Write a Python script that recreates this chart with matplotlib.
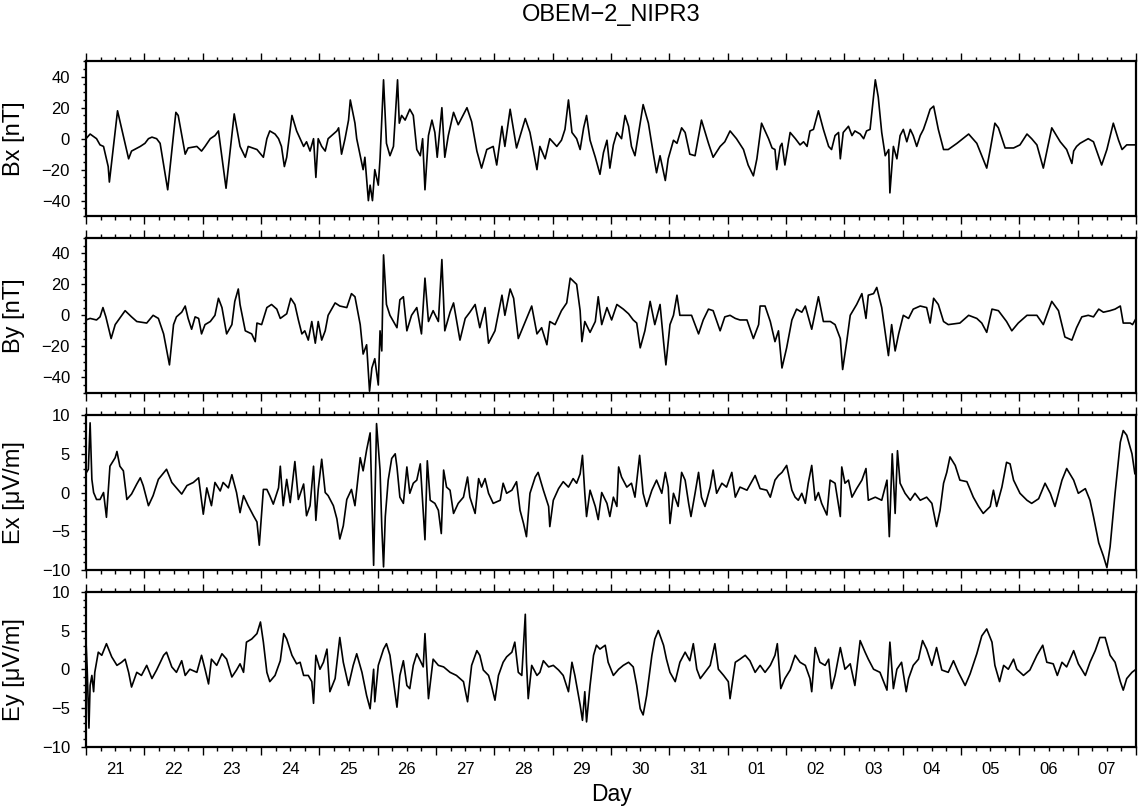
import numpy as np
import matplotlib.pyplot as plt
from matplotlib.ticker import MultipleLocator, NullFormatter

plt.rcParams['font.family'] = ['Liberation Sans', 'DejaVu Sans']

# time axis: days since day 21, 00:00
bx_day = [0.00, 0.07, 0.18, 0.24, 0.30, 0.38, 0.40, 0.54, 0.73, 0.78, 0.93, 1.01, 1.07, 1.13, 1.21, 1.27,
          1.40, 1.54, 1.58, 1.70, 1.75, 1.90, 1.98, 2.04, 2.13, 2.21, 2.27, 2.40, 2.54, 2.64, 2.73, 2.78,
          2.93, 3.04, 3.10, 3.15, 3.24, 3.30, 3.35, 3.40, 3.44, 3.53, 3.61, 3.67, 3.73, 3.78, 3.84, 3.90,
          3.94, 3.98, 4.04, 4.10, 4.15, 4.24, 4.30, 4.33, 4.38, 4.44, 4.50, 4.53, 4.61, 4.64, 4.75, 4.78,
          4.84, 4.87, 4.91, 4.95, 5.01,
          5.04, 5.10, 5.15, 5.21, 5.27, 5.34, 5.37, 5.41, 5.47, 5.55, 5.61, 5.67, 5.73, 5.77, 5.81, 5.87,
          5.93, 5.98, 6.02, 6.10, 6.15, 6.21, 6.30, 6.38, 6.53, 6.61, 6.70, 6.78, 6.87, 6.98, 7.04, 7.13,
          7.18, 7.27, 7.38, 7.53, 7.61, 7.73, 7.78, 7.87, 7.95, 8.07, 8.15, 8.21, 8.27, 8.33, 8.41, 8.47,
          8.53, 8.58, 8.64, 8.73, 8.81, 8.87, 8.93, 8.98, 9.04, 9.10, 9.18, 9.24, 9.30, 9.35, 9.41, 9.55,
          9.64, 9.73, 9.78, 9.84, 9.93, 9.98, 10.07, 10.13, 10.21, 10.27, 10.35, 10.44, 10.55, 10.67, 10.75,
          10.87, 10.95, 11.04, 11.15, 11.27, 11.35, 11.44, 11.50, 11.58,
          11.70, 11.76, 11.81, 11.84, 11.90, 11.93, 11.98, 12.07, 12.16, 12.24, 12.30, 12.36, 12.41, 12.47,
          12.555, 12.64, 12.73, 12.78, 12.84, 12.90, 12.93, 12.98, 13.07, 13.13, 13.18, 13.27, 13.33, 13.38,
          13.44, 13.53, 13.58, 13.64, 13.70, 13.76, 13.78, 13.84, 13.90, 13.955, 14.01, 14.07, 14.13, 14.18,
          14.24, 14.30, 14.355, 14.41, 14.47, 14.53, 14.61, 14.70, 14.78, 14.93, 15.13, 15.27, 15.355, 15.44,
          15.50, 15.58, 15.64, 15.755, 15.90, 16.01, 16.13, 16.21, 16.30, 16.41, 16.555, 16.70, 16.81, 16.90,
          16.93, 16.98, 17.04, 17.18, 17.27, 17.41, 17.50, 17.61, 17.70, 17.76, 17.84, 18.00]
bx_val = [0, 3, 0, -4, -5, -18, -28, 18, -13, -8, -5, -3, 0, 1, 0, -3,
          -33, 17, 15, -10, -6, -5, -8, -5, 0, 2, 5, -32, 16, -5, -12, -5,
          -7, -12, 0, 5, 3, 0, -5, -18, -12, 15, 5, 0, -5, -2, -8, 0,
          -25, 0, -5, -8, 0, 3, 5, 7, -10, 0, 12, 25, 10, 0, -20, -12,
          -40, -30, -40, -20, -30,
          -13, 38, -3, -11, -5, 38, 10, 15, 12, 19, 15, -7, -11, 0, -33, 2,
          12, 4, -12, 20, -12, 2, 17, 9, 20, 11, -8, -19, -7, -5, -17, 8,
          -5, 19, -6, 13, 4, -20, -5, -13, 0, -5, -1, 6, 25, 4, 0, -7,
          7, 15, -1, -12, -23, -9, -1, -19, -4, 4, 0, 15, 8, -5, -11, 22,
          10, -11, -22, -11, -27, -13, -1, -3, 7, 4, -10, -11, 12, -3, -12,
          -5, -2, 5, 0, -7, -17, -24, -13, 10,
          0, -6, -7, -20, -5, -3, -17, 4, 0, -4, -2, -5, 5, 6,
          18, 6, -5, -7, 2, 4, -13, 4, 8, 2, 5, 3, 0, 5,
          6, 38, 27, 4, -11, -7, -35, -5, -13, 2, 6, -2, 6, 2,
          -5, 2, 6, 12, 19, 21, 6, -7, -7, -3, 3, -3, -11, -19,
          -7, 10, 7, -6, -6, -4, 3, 0, -4, -19, 7, -2, -7, -16,
          -8, -5, -3, 0, -2, -17, -7, 10, -1, -7, -4, -4]

by_day = [0.00, 0.07, 0.18, 0.24, 0.29, 0.34, 0.43, 0.50, 0.67, 0.78, 0.87, 1.04, 1.15, 1.24, 1.33, 1.43,
          1.50, 1.55, 1.64, 1.70, 1.75, 1.81, 1.87, 1.93, 1.98, 2.04, 2.13, 2.21, 2.27, 2.33, 2.41, 2.50,
          2.55, 2.61, 2.64, 2.73, 2.84, 2.90, 2.93, 3.01, 3.10, 3.18, 3.27, 3.33, 3.44, 3.51, 3.58, 3.64,
          3.70, 3.75, 3.81, 3.87, 3.93, 3.98, 4.04, 4.10, 4.15, 4.27, 4.35, 4.47, 4.55, 4.61, 4.70, 4.75,
          4.81, 4.86, 4.90, 4.95, 5.01,
          5.04, 5.07, 5.10, 5.15, 5.21, 5.27, 5.33, 5.38, 5.44, 5.50, 5.58, 5.67, 5.75, 5.81, 5.87, 5.95,
          6.04, 6.10, 6.15, 6.24, 6.30, 6.41, 6.50, 6.58, 6.67, 6.75, 6.84, 6.90, 7.01, 7.13, 7.18, 7.27,
          7.33, 7.41, 7.53, 7.64, 7.73, 7.81, 7.90, 7.95, 8.04, 8.15, 8.24, 8.30, 8.41, 8.47, 8.50, 8.55,
          8.64, 8.73, 8.78, 8.84, 8.93, 9.01, 9.10, 9.21, 9.30, 9.38, 9.44, 9.50, 9.58, 9.67, 9.75, 9.84,
          9.90, 9.94, 10.01, 10.07, 10.13, 10.18, 10.27, 10.38, 10.50, 10.58, 10.67, 10.75, 10.87, 10.95,
          11.04, 11.13, 11.21, 11.33, 11.44, 11.53,
          11.555, 11.64, 11.73, 11.81, 11.87, 11.93, 12.01, 12.10, 12.18, 12.27, 12.33, 12.44, 12.555, 12.64,
          12.76, 12.84, 12.93, 12.97, 13.04, 13.10, 13.21, 13.30, 13.37, 13.41, 13.50, 13.555, 13.64, 13.755,
          13.81, 13.87, 13.93, 14.01, 14.10, 14.18, 14.30, 14.41, 14.47, 14.53, 14.61, 14.70, 14.78, 14.98,
          15.13, 15.27, 15.355, 15.44, 15.53, 15.64, 15.78, 15.87, 15.98, 16.13, 16.30, 16.41, 16.555, 16.67,
          16.78, 16.90, 16.98, 17.07, 17.18, 17.27, 17.36, 17.44, 17.555, 17.64, 17.73, 17.78, 17.90, 17.94,
          18.00]
by_val = [-3, -2, -3, -1, 5, -1, -15, -6, 3, -1, -4, -5, 0, -2, -12, -32,
          -6, -1, 2, 6, -2, -9, -1, -2, -12, -6, -4, 0, 11, 5, -12, -6,
          9, 17, 7, -10, -12, -17, -5, -6, 5, 7, 4, -2, 1, 11, 7, -3,
          -12, -10, -16, -4, -18, -4, -16, -10, 0, 8, 6, 5, 14, 12, -6, -25,
          -19, -49, -34, -28, -45,
          -10, -23, 39, 7, 0, -4, -8, 10, 12, -10, 0, 5, -12, 24, -4, 3,
          -4, 36, -10, 2, 8, -16, -2, 2, 7, -8, 5, -18, -10, 13, 0, 17,
          11, -15, -4, 6, -12, -8, -19, -4, -6, 3, 8, 24, 20, 3, -17, -4,
          -11, -4, 12, -6, 5, -3, 7, 4, 1, -3, -5, -21, -10, 9, -6, 7,
          -17, -32, -6, 0, 13, 0, 0, 0, -12, -3, 4, 3, -10, -1,
          0, -2, -3, -3, -15, -6,
          6, 6, -4, -17, -10, -34, -21, -3, 4, 2, 6, -9, 12, -4,
          -4, -6, -15, -35, -17, 0, 7, 14, -2, 13, 14, 18, 5, -26,
          -6, -23, -12, 0, -2, 4, 6, 5, -5, 11, 7, -4, -6, -5,
          0, -2, -5, -11, 4, 3, -4, -10, -5, 0, 0, -6, 9, 3,
          -14, -16, -8, -1, 0, -1, 4, 2, 3, 4, 6, -5, -5, -6,
          -2]

ex_day = [0.00, 0.04, 0.07, 0.10, 0.13, 0.18, 0.24, 0.30, 0.35, 0.41, 0.50, 0.53, 0.58, 0.64, 0.70, 0.78,
          0.87, 0.93, 0.98, 1.07, 1.15, 1.24, 1.38, 1.47, 1.55, 1.64, 1.73, 1.84, 1.93, 2.01, 2.07, 2.15,
          2.21, 2.30, 2.35, 2.44, 2.50, 2.58, 2.64, 2.70, 2.78, 2.87, 2.93, 2.97, 3.04, 3.10, 3.15, 3.21,
          3.30, 3.33, 3.38, 3.44, 3.50, 3.58, 3.64, 3.73, 3.78, 3.84, 3.90, 3.94, 3.98, 4.04, 4.10, 4.15,
          4.24, 4.30, 4.35, 4.41, 4.47, 4.55, 4.61, 4.70, 4.75, 4.81, 4.87, 4.93, 4.98,
          5.04, 5.07, 5.10, 5.13, 5.18, 5.24, 5.30, 5.33, 5.38, 5.44, 5.50, 5.55, 5.61, 5.67, 5.73, 5.78,
          5.81, 5.85, 5.90, 5.98, 6.04, 6.09, 6.13, 6.18, 6.24, 6.30, 6.38, 6.47, 6.54, 6.58, 6.67, 6.73,
          6.78, 6.84, 6.90, 6.98, 7.10, 7.15, 7.21, 7.30, 7.38, 7.44, 7.50, 7.55, 7.61, 7.70, 7.75, 7.84,
          7.93, 7.95, 8.01, 8.10, 8.18, 8.27, 8.35, 8.41, 8.47, 8.51, 8.55, 8.58, 8.64, 8.73, 8.78, 8.84,
          8.93, 8.98, 9.04, 9.10, 9.13, 9.18, 9.27, 9.35, 9.41, 9.49, 9.55, 9.61, 9.70, 9.78, 9.87, 9.93,
          9.98, 10.01, 10.07, 10.15, 10.21, 10.27, 10.33, 10.37, 10.44, 10.50, 10.55, 10.61, 10.70, 10.75,
          10.81, 10.90, 10.98, 11.07, 11.13, 11.21, 11.33, 11.47,
          11.555, 11.67, 11.73, 11.81, 11.87, 11.93, 12.01, 12.10, 12.155, 12.21, 12.27, 12.33, 12.38, 12.44,
          12.50, 12.555, 12.61, 12.70, 12.755, 12.84, 12.93, 12.955, 13.01, 13.07, 13.13, 13.21, 13.30, 13.37,
          13.41, 13.53, 13.64, 13.73, 13.77, 13.82, 13.87, 13.91, 13.955, 14.04, 14.13, 14.21, 14.30, 14.41,
          14.50, 14.58, 14.64, 14.70, 14.755, 14.81, 14.90, 14.98, 15.10, 15.21, 15.30, 15.38, 15.50, 15.555,
          15.61, 15.70, 15.78, 15.84, 15.90, 16.01, 16.13, 16.21, 16.33, 16.44, 16.53, 16.61, 16.73, 16.81,
          16.93, 17.01, 17.13, 17.21, 17.27, 17.36, 17.44, 17.50, 17.555, 17.64, 17.73, 17.78, 17.84, 17.93,
          17.98, 18.00]
ex_val = [2.5, 3.0, 9.0, 1.7, 0.0, -0.9, -0.9, 0.0, -3.2, 3.4, 4.5, 5.3, 3.4, 2.8, -0.9, -0.2,
          1.1, 1.9, 0.9, -1.7, -0.4, 1.7, 3.0, 1.3, 0.6, -0.2, 0.9, 1.3, 1.9, -2.8, 0.6, -1.7,
          1.3, 0.2, 1.3, 0.6, 2.3, 0.0, -2.6, -0.4, -1.7, -3.0, -3.8, -6.8, 0.4, 0.4, -0.4, -1.5,
          0.6, 3.4, -1.7, 1.7, -1.3, 4.0, -0.9, 1.1, -3.0, -1.7, 3.4, -3.6, 0.4, 4.3, 0.0, -0.4,
          -1.7, -3.4, -6.0, -4.3, -0.9, 0.4, -1.7, 4.5, 2.8, 5.5, 7.7, -9.4, 8.9,
          2.9, -4.4, -9.6, -3.1, 1.6, 4.4, 5.0, 3.3, -0.6, -1.4, 3.3, -0.1, 1.2, 1.6, 3.7, -2.3,
          -6.1, 4.1, -1.0, -1.4, -2.3, -5.3, 2.9, 0.7, 0.3, -2.7, -1.4, -0.6, 2.0, -0.6, -2.7, 1.8,
          0.7, 1.8, -0.1, -1.4, -1.0, 1.2, -0.1, 0.3, 1.4, -2.3, -4.0, -5.7, -0.1, 2.0, 2.6, 0.3,
          -1.8, -4.4, -1.0, 0.5, 1.4, 0.7, 1.8, 1.2, 2.4, 4.8, -0.1, -3.1, 0.3, -1.8, -3.5, 0.0,
          -1.4, -3.1, -0.6, -1.8, 3.3, 2.0, 0.7, 1.2, -0.6, 4.8, -0.1, -1.8, 0.3, 1.6, -0.1, 2.6,
          0.7, -4.0, -0.1, -1.8, 2.6, 1.6, -1.4, -3.1, -0.1, 2.6, -0.6, -1.8, 0.7, 2.9,
          -0.1, 1.2, 0.7, 2.6, -0.6, 0.7, 0.3, 2.2,
          0.5, 0.3, -0.6, 1.6, 2.2, 2.6, 3.5, 0.3, -0.6, -1.0, -0.1, -1.4, 1.2, 3.5,
          -1.0, 0.0, -1.4, -2.9, 1.6, 1.2, -3.1, 3.3, 1.2, 1.6, -0.6, 0.5, 1.6, 3.1,
          -1.0, -0.6, -1.0, 1.6, -5.7, 5.0, -2.7, 5.4, 1.2, -0.1, -1.0, -0.1, -1.0, -0.6,
          -1.4, -4.4, -2.3, 1.2, 2.6, 4.6, 3.5, 1.6, 1.4, -0.6, -1.8, -2.7, -1.8, 0.3,
          -1.8, 0.7, 3.9, 3.7, 1.6, -0.1, -1.0, -1.4, -0.8, 1.2, -0.1, -1.8, 1.6, 3.1,
          1.6, -0.1, 0.5, -1.0, -3.1, -6.5, -8.2, -9.7, -7.0, -0.1, 6.5, 8.0, 7.4, 5.0,
          2.4, 3.3]

ey_day = [0.00, 0.02, 0.05, 0.07, 0.10, 0.13, 0.15, 0.21, 0.27, 0.35, 0.44, 0.53, 0.61, 0.67, 0.73, 0.78,
          0.87, 0.95, 1.04, 1.13, 1.21, 1.33, 1.38, 1.47, 1.55, 1.64, 1.70, 1.78, 1.90, 1.98, 2.04, 2.10,
          2.15, 2.24, 2.33, 2.41, 2.50, 2.58, 2.64, 2.70, 2.75, 2.84, 2.93, 2.99, 3.04, 3.10, 3.15, 3.24,
          3.33, 3.39, 3.44, 3.53, 3.61, 3.67, 3.73, 3.81, 3.87, 3.90, 3.94, 4.01, 4.07, 4.13, 4.18, 4.27,
          4.35, 4.41, 4.50, 4.58, 4.64, 4.73, 4.81, 4.87, 4.93, 4.95, 5.01,
          5.10, 5.15, 5.21, 5.27, 5.33, 5.38, 5.44, 5.50, 5.55, 5.61, 5.67, 5.73, 5.78, 5.81, 5.87, 5.95,
          6.04, 6.13, 6.24, 6.35, 6.47, 6.54, 6.61, 6.70, 6.75, 6.81, 6.90, 6.95, 7.01, 7.07, 7.15, 7.21,
          7.30, 7.35, 7.41, 7.47, 7.53, 7.55, 7.58, 7.64, 7.73, 7.78, 7.84, 7.93, 8.01, 8.10, 8.18, 8.27,
          8.33, 8.38, 8.47, 8.51, 8.55, 8.58, 8.64, 8.70, 8.75, 8.81, 8.90, 8.95, 9.04, 9.13, 9.21, 9.30,
          9.38, 9.44, 9.50, 9.55, 9.61, 9.70, 9.75, 9.81, 9.90, 9.95, 10.01, 10.10, 10.18, 10.27, 10.35,
          10.41, 10.47, 10.53, 10.61, 10.70, 10.78, 10.84, 10.93, 11.01, 11.04, 11.13, 11.21, 11.30, 11.38,
          11.47,
          11.555, 11.64, 11.73, 11.81, 11.85, 11.91, 11.98, 12.07, 12.155, 12.24, 12.33, 12.41, 12.44, 12.50,
          12.58, 12.67, 12.73, 12.78, 12.84, 12.93, 13.01, 13.10, 13.18, 13.27, 13.355, 13.41, 13.50, 13.61,
          13.73, 13.78, 13.84, 13.90, 13.98, 14.06, 14.10, 14.18, 14.27, 14.34, 14.41, 14.50, 14.58, 14.67,
          14.78, 14.87, 14.955, 15.07, 15.155, 15.27, 15.355, 15.44, 15.53, 15.58, 15.66, 15.73, 15.81, 15.90,
          15.955, 16.07, 16.18, 16.30, 16.40, 16.47, 16.58, 16.65, 16.73, 16.81, 16.93, 17.01, 17.13, 17.21,
          17.30, 17.38, 17.47, 17.555, 17.64, 17.73, 17.78, 17.84, 17.93, 18.00]
ey_val = [3.5, 0.0, -7.6, -2.1, -0.8, -2.9, -0.4, 2.2, 1.8, 3.3, 1.6, 0.5, 0.9, 1.3, -0.4, -2.3,
          -0.4, -0.8, 0.5, -1.2, -0.1, 1.8, 2.2, 0.3, -0.4, 1.1, -0.8, 0.0, -0.4, 1.8, 0.0, -1.9,
          1.3, 0.5, 2.0, 1.3, -1.0, -0.1, 0.7, -0.4, 3.5, 3.9, 4.6, 6.1, 3.5, -0.4, -1.6, -0.8,
          1.1, 4.6, 3.9, 1.8, 0.7, 0.9, -0.8, -0.8, -1.6, -4.4, 1.8, 0.0, 0.9, 2.6, -2.9, -1.2,
          4.1, 0.9, -2.1, 0.5, 2.0, -0.4, -3.4, -5.1, 0.0, -4.2, 0.5,
          2.6, 3.3, 1.8, -1.6, -4.9, -0.8, 1.1, -2.1, -2.5, 0.5, 2.0, 1.1, 0.3, 4.6, -3.8, 1.3,
          0.5, 0.3, -0.4, -0.8, -1.6, -4.2, 0.5, 2.4, 1.8, -0.1, -0.8, -2.1, -4.0, -0.8, 0.9, 1.6,
          2.2, 3.5, -0.4, -0.8, 7.1, 0.9, -3.8, 0.5, -0.8, -0.4, 1.1, 0.3, 0.5, -0.1, -0.8, -2.9,
          0.9, -0.8, -4.6, -6.6, -2.9, -6.8, -2.1, 1.8, 3.1, 2.6, 3.1, 0.9, -0.8, 0.0, 0.5, 0.9,
          0.3, -2.1, -5.1, -5.9, -3.4, 1.8, 3.9, 5.0, 3.1, 1.3, -0.4, -1.6, 0.9, 2.2, 1.1,
          3.3, 0.0, -1.2, -0.4, 0.5, 3.3, 0.0, -0.8, -1.6, -3.8, 0.9, 1.3, 1.8, 1.1,
          -0.4,
          0.5, -0.4, 0.5, 1.8, 3.3, -2.5, -1.2, -0.1, 1.8, 0.9, 0.5, -1.2, -2.9, 2.8,
          0.9, 0.5, 1.3, -2.5, -0.8, 2.8, 0.0, 0.7, -2.1, 3.7, 2.2, 1.3, 0.0, -0.4,
          -2.7, 3.5, -2.5, 0.0, 0.9, -2.9, -1.2, 0.5, 1.3, 3.7, 2.6, 0.5, 2.8, -0.1,
          -0.4, 1.1, -0.4, -2.1, -0.6, 2.0, 4.3, 5.2, 3.5, 0.5, -1.6, 0.5, 0.0, 1.3,
          0.0, -0.8, -0.1, 1.8, 3.1, 0.9, 0.7, -0.8, 0.9, 0.3, 2.4, 0.7, -0.8, 0.9,
          2.4, 4.1, 4.1, 1.8, 0.9, -1.6, -2.7, -1.2, -0.4, 0.0]

day_labels = ['21', '22', '23', '24', '25', '26', '27', '28', '29', '30', '31',
              '01', '02', '03', '04', '05', '06', '07']

panels = [
    (bx_day, bx_val, 'Bx [nT]', (-50, 50), 20, 5),
    (by_day, by_val, 'By [nT]', (-50, 50), 20, 5),
    (ex_day, ex_val, 'Ex [\u03bcV/m]', (-10, 10), 5, 1),
    (ey_day, ey_val, 'Ey [\u03bcV/m]', (-10, 10), 5, 1),
]

fig = plt.figure(figsize=(11.38, 8.11), dpi=100)
bottoms = [0.7335, 0.5157, 0.2972, 0.0793]

for (days, vals, label, ylim, major, minor), b in zip(panels, bottoms):
    ax = fig.add_axes([0.0756, b, 0.9227, 0.191])
    ax.plot(days, vals, color='black', lw=1.2)
    ax.set_xlim(0, len(day_labels))
    ax.set_ylim(*ylim)

    ax.xaxis.set_major_locator(MultipleLocator(1))
    ax.xaxis.set_minor_locator(MultipleLocator(0.25))
    ax.xaxis.set_major_formatter(NullFormatter())
    ax.yaxis.set_major_locator(MultipleLocator(major))
    ax.yaxis.set_minor_locator(MultipleLocator(minor))

    ax.tick_params(axis='x', which='both', direction='out', top=True, bottom=True, width=1.0)
    ax.tick_params(axis='x', which='major', length=6)
    ax.tick_params(axis='x', which='minor', length=3)
    ax.tick_params(axis='y', which='both', direction='out', right=False, width=1.0)
    ax.tick_params(axis='y', which='major', length=3.5, labelsize=12, pad=8)
    ax.tick_params(axis='y', which='minor', length=2)

    for s in ax.spines.values():
        s.set_linewidth(1.6)

    ax.set_ylabel(label, fontsize=17)
    ax.yaxis.set_label_coords(-0.058, 0.5)

# day labels centred under each day on the last panel
for i, lab in enumerate(day_labels):
    ax.text(i + 0.5, -0.147, lab, transform=ax.get_xaxis_transform(),
            ha='center', va='center', fontsize=12)
ax.text(len(day_labels) / 2, -0.31, 'Day', transform=ax.get_xaxis_transform(),
        ha='center', va='center', fontsize=16.5)

fig.text(0.537, 0.981, 'OBEM\u22122_NIPR3', ha='center', va='center', fontsize=17)

fig.savefig('out.png', dpi=100)
